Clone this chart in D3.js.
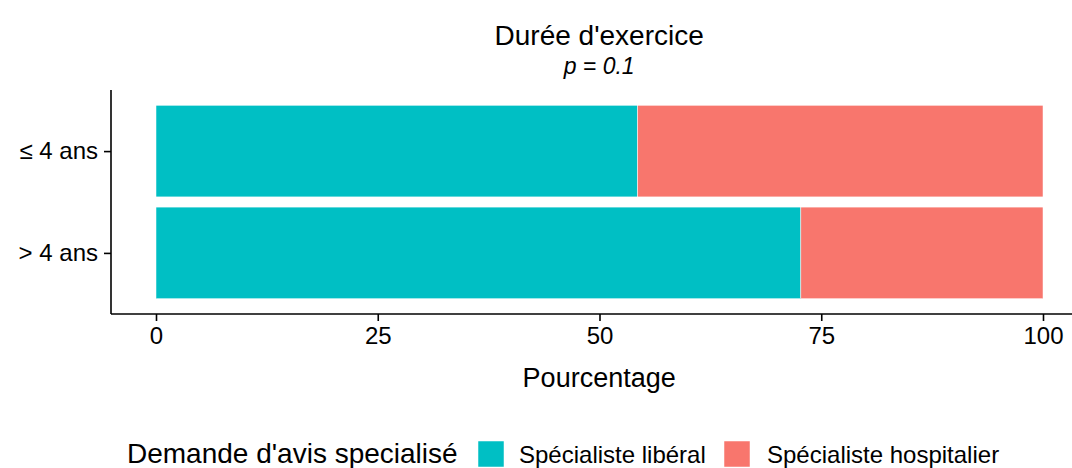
<!DOCTYPE html>
<html>
<head>
<meta charset="utf-8">
<script src="https://cdn.jsdelivr.net/npm/d3@7"></script>
<style>
  body { margin: 0; background: #fff; }
  text { font-family: "Liberation Sans", Arial, Helvetica, sans-serif; fill: #000; }
</style>
</head>
<body>
<div id="chart"></div>
<script>
// data
const categories = ["≤ 4 ans", "> 4 ans"];
const groups = ["Spécialiste libéral", "Spécialiste hospitalier"];
const liberal = [54.3, 72.7];
const hospitalier = [45.7, 27.3];
const xTicks = [0, 25, 50, 75, 100];
const colors = ["#00BFC4", "#F8766D"];

const width = 1072, height = 468;
const margin = { top: 90, right: -15, bottom: 154, left: 111 };

const svg = d3.select("#chart")
  .append("svg")
  .attr("width", width)
  .attr("height", height);

// x scale: ggplot style with 5% expansion
const x = d3.scaleLinear()
  .domain([0, 100])
  .range([156, 1043]);

// y scale: discrete with 0.6 expansion
const y = d3.scalePoint()
  .domain(categories)
  .range([margin.top, height - margin.bottom])
  .padding(0.6);
const barH = y.step() * 0.9;

const rows = categories.map((c, i) => ({ cat: c, vals: [liberal[i], hospitalier[i]] }));

// stacked bars
rows.forEach(r => {
  let start = 0;
  r.vals.forEach((v, j) => {
    svg.append("rect")
      .attr("x", x(start))
      .attr("y", y(r.cat) - barH / 2)
      .attr("width", x(start + v) - x(start))
      .attr("height", barH)
      .attr("fill", colors[j])
      .attr("stroke", "white")
      .attr("stroke-width", 0.5);
    start += v;
  });
});

const panelRight = x(100) + (x(100) - x(0)) * 0.05;

// x axis
const xAxis = svg.append("g")
  .attr("transform", "translate(0," + (height - margin.bottom) + ")")
  .call(d3.axisBottom(x).tickValues(xTicks).tickSize(7).tickPadding(6).tickSizeOuter(0));
xAxis.select(".domain").remove();
xAxis.append("line")
  .attr("x1", margin.left).attr("x2", panelRight)
  .attr("stroke", "#000").attr("stroke-width", 1.6);
xAxis.selectAll(".tick line").attr("stroke", "#000").attr("stroke-width", 1.6);
xAxis.selectAll(".tick text").style("font-size", "24px").attr("fill", "#000");

// y axis
const yAxis = svg.append("g")
  .attr("transform", "translate(" + margin.left + ",0)")
  .call(d3.axisLeft(y).tickSize(7).tickPadding(6).tickSizeOuter(0));
yAxis.select(".domain").remove();
yAxis.append("line")
  .attr("y1", margin.top).attr("y2", height - margin.bottom)
  .attr("stroke", "#000").attr("stroke-width", 1.6);
yAxis.selectAll(".tick line").attr("stroke", "#000").attr("stroke-width", 1.6);
yAxis.selectAll(".tick text").style("font-size", "24px").attr("fill", "#000");

// titles
const cx = (margin.left + panelRight) / 2;
svg.append("text")
  .attr("x", cx).attr("y", 45)
  .attr("text-anchor", "middle")
  .style("font-size", "28px")
  .text("Durée d'exercice");
svg.append("text")
  .attr("x", cx).attr("y", 74)
  .attr("text-anchor", "middle")
  .style("font-size", "23px")
  .style("font-style", "italic")
  .text("p = 0.1");

svg.append("text")
  .attr("x", cx).attr("y", 387)
  .attr("text-anchor", "middle")
  .style("font-size", "27px")
  .text("Pourcentage");

// legend
const legY = 463;
svg.append("text")
  .attr("x", 127).attr("y", legY)
  .style("font-size", "28px")
  .text("Demande d'avis specialisé");

const keyX = [478, 724];
const labX = [519, 767];
groups.forEach((g, j) => {
  svg.append("rect")
    .attr("x", keyX[j]).attr("y", 441)
    .attr("width", 26).attr("height", 26)
    .attr("fill", colors[j])
    .attr("stroke", "white").attr("stroke-width", 0.5);
  svg.append("text")
    .attr("x", labX[j]).attr("y", legY)
    .style("font-size", "24px")
    .text(g);
});
</script>
</body>
</html>
